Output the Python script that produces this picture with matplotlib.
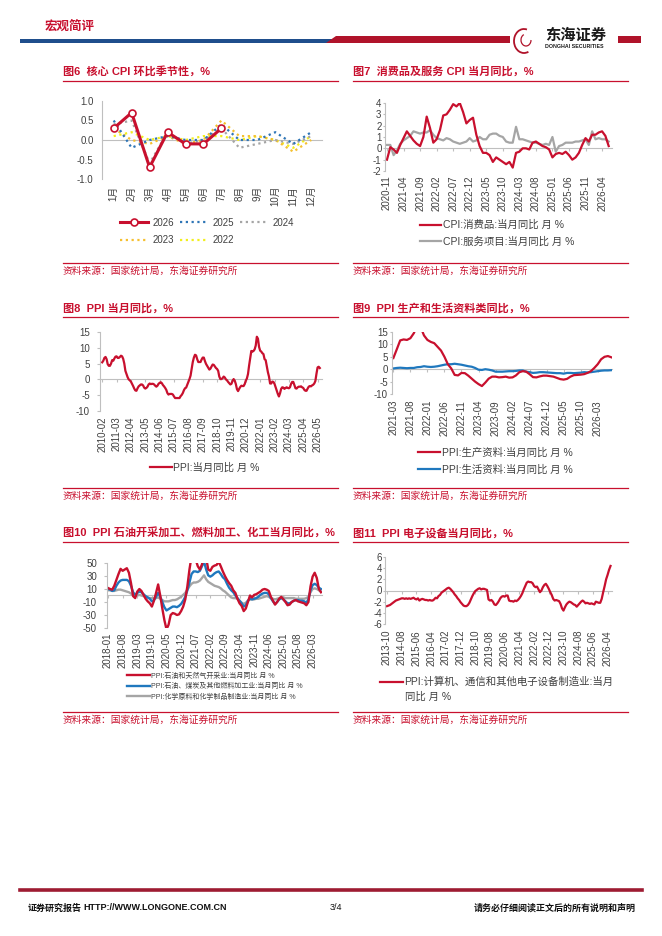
import numpy as np
import pandas as pd
import matplotlib
matplotlib.use("Agg")
import matplotlib.pyplot as plt
from matplotlib.lines import Line2D
from matplotlib.patches import Polygon, Rectangle, Arc

plt.rcParams['font.family'] = ['Liberation Sans', 'Noto Sans CJK SC']
plt.rcParams['axes.unicode_minus'] = False

RED = '#C8102E'
BAR_RED = '#B0132A'
BAR_BLUE = '#1F4E8C'
GREY = '#A5A5A5'
BLUE = '#1F78BE'
AXIS = '#BFBFBF'
TXT = '#404040'
SOURCE = '资料来源：国家统计局，东海证券研究所'

# ---- 图6 core CPI mom seasonality
months_cn = ['1月', '2月', '3月', '4月', '5月', '6月', '7月', '8月', '9月', '10月', '11月', '12月']
core_2026 = [0.3, 0.7, -0.7, 0.2, -0.1, -0.1, 0.3]
core_2025 = [0.5, -0.2, 0.0, 0.1, 0.0, 0.0, 0.4, 0.0, 0.0, 0.2, -0.1, 0.2]
core_2024 = [0.4, 0.5, -0.6, 0.2, -0.1, 0.0, 0.3, -0.2, -0.1, 0.0, -0.1, 0.1]
core_2023 = [0.3, 0.0, -0.1, 0.1, -0.1, 0.0, 0.5, 0.1, 0.1, 0.0, -0.3, 0.0]
core_2022 = [0.1, 0.2, 0.0, 0.1, 0.0, 0.1, 0.1, 0.0, 0.1, 0.0, -0.2, 0.1]

# ---- 图7 CPI goods / services yoy, from 2020-11
cpi_start = '2020-11'
cpi_goods = [-1.0, 0.1, -0.1, -0.4, 0.3, 0.9, 1.5, 1.1, 0.7, 0.4, 0.2, 1.0,
             2.8, 1.8, 0.5, 0.8, 1.6, 2.9, 3.0, 3.4, 3.9, 3.7, 4.0, 3.2,
             2.2, 2.5, 2.7, 1.2, 0.2, -0.4, -0.4, -0.6, -1.2, -0.8, -1.0, -1.2,
             -1.4, -1.2, -1.7, -0.4, -0.3, 0.0, 0.0, -0.1, 0.5, 0.6, 0.4, 0.2,
             0.1, -0.1, -0.8, -0.5, -0.4, -0.5, -0.3, -0.6, -1.0, -0.8, -0.4, 0.3,
             0.9, 0.6, 1.2, 1.2, 1.4, 1.5, 1.1, 0.2]
cpi_services = [0.3, 0.3, -0.6, -0.2, 0.4, 0.7, 0.9, 1.1, 1.5, 1.4, 1.3, 1.4,
                1.4, 1.6, 1.2, 0.9, 0.8, 0.7, 0.9, 0.8, 0.6, 0.5, 0.4, 0.5,
                0.6, 0.9, 0.6, 0.7, 1.0, 0.8, 0.8, 1.2, 1.3, 1.3, 1.1, 1.0,
                0.6, 0.5, 0.5, 1.9, 0.8, 0.8, 0.7, 0.6, 0.5, 0.5, 0.4, 0.3,
                0.4, 0.3, 1.0, -0.3, 0.2, 0.3, 0.5, 0.5, 0.5, 0.6, 0.6, 0.7,
                0.8, 0.3, 1.5, 0.8, 0.9, 0.8, 0.8, 0.6]
cpi_ticks = ['2020-11', '2021-04', '2021-09', '2022-02', '2022-07', '2022-12', '2023-05',
             '2023-10', '2024-03', '2024-08', '2025-01', '2025-06', '2025-11', '2026-04']

# ---- 图8 PPI yoy, from 2010-02
ppi_start = '2010-02'
ppi_yoy = [5.4, 5.9, 6.8, 7.1, 6.4, 4.8, 4.3, 4.3, 5.0, 6.1, 5.9,
           6.6, 7.2, 7.3, 6.8, 6.8, 7.1, 7.5, 7.3, 6.5, 5.0, 2.7, 1.7,
           0.7, 0.0, -0.3, -0.7, -1.4, -2.1, -2.9, -3.5, -3.6, -2.8, -2.2, -1.9,
           -1.6, -1.6, -1.9, -2.6, -2.9, -2.7, -2.3, -1.6, -1.3, -1.5, -1.4, -1.4,
           -1.6, -2.0, -2.3, -2.0, -1.4, -1.1, -0.9, -1.2, -1.8, -2.2, -2.7, -3.3,
           -4.3, -4.8, -4.6, -4.6, -4.6, -4.8, -5.4, -5.9, -5.9, -5.9, -5.9, -5.9,
           -5.3, -4.9, -4.3, -3.4, -2.8, -2.6, -1.7, -0.8, 0.1, 1.2, 3.3, 5.5,
           6.9, 7.8, 7.6, 6.4, 5.5, 5.5, 5.5, 6.3, 6.9, 6.9, 5.8, 4.9,
           4.3, 3.7, 3.1, 3.4, 4.1, 4.7, 4.6, 4.1, 3.6, 3.3, 2.7, 0.9,
           0.1, 0.1, 0.4, 0.9, 0.6, 0.0, -0.3, -0.8, -1.2, -1.6, -1.4, -0.5,
           0.1, -0.4, -1.5, -3.1, -3.7, -3.0, -2.4, -2.0, -2.1, -2.1, -1.5, -0.4,
           0.3, 1.7, 4.4, 6.8, 9.0, 8.8, 9.0, 9.5, 10.7, 13.5, 12.9, 10.3,
           9.1, 8.8, 8.3, 8.0, 6.4, 6.1, 4.2, 2.3, 0.9, -1.3, -1.3, -0.7,
           -0.8, -1.4, -2.5, -3.6, -4.6, -5.4, -4.4, -3.0, -2.5, -2.6, -3.0, -2.7,
           -2.5, -2.7, -2.8, -2.5, -1.4, -0.8, -0.8, -1.8, -2.8, -2.9, -2.5, -2.3,
           -2.3, -2.2, -2.5, -2.7, -3.3, -3.6, -3.6, -2.9, -2.3, -2.1, -2.2, -1.9,
           -1.7, -1.3, -0.5, 1.8, 3.8, 4.0, 3.6]
ppi_ticks = ['2010-02', '2011-03', '2012-04', '2013-05', '2014-06', '2015-07', '2016-08', '2017-09',
             '2018-10', '2019-11', '2020-12', '2022-01', '2023-02', '2024-03', '2025-04', '2026-05']

# ---- 图9 production / living materials, from 2021-03
mat_start = '2021-03'
ppi_production = [4.5, 8.0, 11.6, 12.0, 11.8, 12.5, 14.5, 17.5, 17.0, 13.6, 11.8, 11.0,
                  10.5, 9.0, 7.5, 5.0, 2.0, 0.3, -2.3, -2.5, -1.5, -1.6, -2.6, -3.8,
                  -5.0, -6.0, -6.8, -5.4, -3.8, -3.0, -3.0, -3.3, -3.2, -3.0, -3.4, -3.3,
                  -2.5, -1.2, -0.8, -1.0, -2.0, -3.2, -3.3, -2.9, -2.6, -2.6, -2.8, -3.0,
                  -3.5, -4.0, -4.2, -3.9, -3.0, -2.4, -2.3, -2.2, -2.0, -1.5, -0.8, 0.5,
                  2.0, 4.0, 5.0, 5.3, 4.8]
ppi_living = [0.3, 0.5, 0.6, 0.5, 0.4, 0.5, 0.5, 0.8, 0.9, 1.2, 1.0, 0.9,
              1.0, 1.2, 1.5, 1.8, 2.0, 2.0, 2.2, 2.0, 1.8, 1.5, 1.2, 1.0,
              0.5, -0.2, -0.3, 0.0, -0.2, -0.5, -1.0, -1.0, -1.0, -0.9, -0.8, -0.8,
              -0.7, -0.5, -0.5, -1.0, -1.2, -1.5, -1.4, -1.2, -1.2, -1.3, -1.4, -1.5,
              -1.6, -1.6, -1.8, -1.5, -1.5, -1.6, -1.5, -1.4, -1.2, -1.3, -1.2, -1.0,
              -0.8, -0.6, -0.5, -0.5, -0.4]
mat_ticks = ['2021-03', '2021-08', '2022-01', '2022-06', '2022-11', '2023-04', '2023-09',
             '2024-02', '2024-07', '2024-12', '2025-05', '2025-10', '2026-03']

# ---- 图10 oil / fuel / chemicals, from 2018-01
ind_start = '2018-01'
oil_gas = [11.5, 10, 9, 15, 24, 33, 41, 38, 40, 42, 35, 19,
           -1, -4, 6, 10, 7, 1, -5, -9, -12, -17, -8, 4,
           17, 0, -20, -38, -52, -45, -30, -27, -28, -30, -29, -24,
           -17, -6, 14, 40, 60, 65, 55, 45, 40, 48, 60, 58,
           40, 38, 44, 46, 47, 52, 45, 37, 30, 24, 19, 15,
           8, 4, -5, -12, -16, -24, -20, -10, 0, -3, 1, 2,
           4, 6, 9, 10, 9, 7, -2, -8, -14, -10, -5, -2,
           -6, -10, -15, -14, -10, -8, -7, -9, -10, -11, -12, -15,
           -10, 14, 29, 35, 27, 10, 5]
fuel_proc = [10, 9, 7, 8, 15, 20, 23, 24, 24, 24, 22, 15,
             5, 1, 4, 6, 5, 2, -1, -3, -5, -9, -7, -2,
             4, -2, -10, -18, -23, -21, -19, -17, -17, -18, -16, -13,
             -8, -2, 8, 20, 33, 37, 37, 36, 38, 45, 52, 40,
             31, 29, 31, 34, 36, 37, 33, 28, 25, 18, 12, 8,
             5, 0, -4, -8, -12, -17, -15, -8, -5, -6, -5, -4,
             -2, 1, 3, 4, 4, 2, -4, -9, -13, -10, -6, -4,
             -6, -9, -12, -12, -10, -8, -7, -7, -8, -8, -9, -11,
             -6, 8, 16, 18, 16, 12, 10]
chemicals = [8, 8, 7, 7, 8, 9, 9, 8, 7, 6, 5, 3,
             0, -1, 0, 1, 0, -1, -2, -3, -4, -4, -4, -4,
             -3, -5, -7, -9, -9, -9, -8, -7, -7, -6, -4, -2,
             1, 4, 9, 14, 18, 20, 20, 21, 23, 27, 31, 25,
             21, 19, 17, 15, 14, 13, 11, 8, 6, 3, 0, -3,
             -4, -4, -5, -8, -11, -13, -11, -8, -6, -6, -6, -5,
             -5, -4, -3, -2, -1, -2, -4, -5, -6, -5, -4, -3,
             -3, -4, -4, -4, -4, -4, -5, -5, -5, -5, -5, -4,
             -2, 5, 10, 11, 10, 8, 6]
ind_ticks = ['2018-01', '2018-08', '2019-03', '2019-10', '2020-05', '2020-12', '2021-07', '2022-02',
             '2022-09', '2023-04', '2023-11', '2024-06', '2025-01', '2025-08', '2026-03']

# ---- 图11 electronics, from 2013-10
elec_start = '2013-10'
electronics = [-2.8, -2.7, -2.6, -2.4, -2.2, -2.0, -1.8, -1.7, -1.6, -1.5,
               -1.4, -1.4, -1.5, -1.4, -1.5, -1.4, -1.5, -1.4, -1.3, -1.5,
               -1.6, -1.4, -1.8, -1.6, -1.5, -1.6, -1.7, -1.7, -1.8, -1.7,
               -1.8, -1.8, -1.6, -1.3, -1.4, -1.0, -0.8, -0.4, -0.2, 0.0,
               0.2, 0.4, 0.5, 0.3, 0.0, -0.3, -0.7, -1.0, -1.4, -1.7,
               -2.1, -2.4, -2.7, -2.8, -2.8, -2.6, -2.2, -1.6, -1.0, -0.5,
               -0.1, 0.1, 0.3, 0.4, 0.2, 0.3, 0.3, 0.2, 0.1, -1.6,
               -1.8, -1.7, -2.0, -2.5, -2.6, -2.3, -1.9, -1.4, -1.1, -1.0,
               -1.1, -0.9, -0.9, -1.8, -1.9, -1.9, -2.0, -1.8, -1.9, -1.7,
               -1.4, -1.0, -0.5, 0.2, 0.8, 1.4, 1.6, 1.5, 1.5, 1.3,
               0.8, 0.6, 0.7, 0.2, -0.3, 0.0, 0.6, 1.0, 1.2, 0.8,
               0.3, -0.3, -0.8, -1.5, -1.8, -1.7, -1.8, -1.9, -2.4, -3.2,
               -3.6, -3.0, -2.5, -2.2, -2.0, -2.1, -2.3, -2.5, -2.6, -2.9,
               -2.6, -2.3, -2.0, -1.8, -2.0, -2.3, -2.2, -2.3, -2.4, -2.3,
               -2.4, -2.5, -2.0, -2.1, -2.2, -2.2, -1.5, -0.3, 0.8, 2.0,
               2.8, 3.7, 4.4]
elec_ticks = ['2013-10', '2014-08', '2015-06', '2016-04', '2017-02', '2017-12', '2018-10', '2019-08',
              '2020-06', '2021-04', '2022-02', '2022-12', '2023-10', '2024-08', '2025-06', '2026-04']

W, H = 662, 936
fig = plt.figure(figsize=(W / 100, H / 100), dpi=100)


def fy(y):
    return 1 - y / H


def px_axes(x0, y0, x1, y1):
    return fig.add_axes([x0 / W, fy(y1), (x1 - x0) / W, (y1 - y0) / H])


def month_axis(start, values, tick_labels):
    months = pd.period_range(start, periods=len(values), freq='M')
    pos = [months.get_loc(pd.Period(t, freq='M')) for t in tick_labels]
    return np.arange(len(values)), pos


def frame(ax, ylim, yticks, yfmt, xlim, xpos, xlabels, xpad, ylen, ypad, zero_len=2.2):
    ax.set_xlim(*xlim)
    ax.set_ylim(*ylim)
    ax.set_yticks(yticks, [yfmt.format(v) for v in yticks])
    ax.set_xticks(xpos, xlabels, rotation=90)
    for side in ('top', 'right', 'bottom'):
        ax.spines[side].set_visible(False)
    ax.spines['left'].set_color(AXIS)
    ax.spines['left'].set_linewidth(0.8)
    ax.tick_params(axis='y', length=ylen, width=0.8, color=AXIS, pad=ypad, labelsize=7, labelcolor=TXT)
    ax.tick_params(axis='x', length=0, pad=xpad, labelsize=7, labelcolor=TXT)
    ax.patch.set_alpha(0)
    # category axis crosses at zero
    zero = ax.secondary_xaxis((0 - ylim[0]) / (ylim[1] - ylim[0]))
    zero.set_alignment('bottom')
    zero.set_xticks(xpos)
    zero.tick_params(length=zero_len, width=0.8, color=AXIS, labelbottom=False, labeltop=False)
    for s in zero.spines.values():
        s.set_color(AXIS)
        s.set_linewidth(0.8)


def panel_frame(x0, x1, title, y_title, y_line, y_srcline, y_src):
    fig.text(x0 / W, fy(y_title), title, fontsize=8, fontweight='bold', color=RED, va='center', ha='left')
    fig.add_artist(Line2D([x0 / W, x1 / W], [fy(y_line)] * 2, color=RED, lw=0.9))
    fig.add_artist(Line2D([x0 / W, x1 / W], [fy(y_srcline)] * 2, color=RED, lw=0.9))
    fig.text(x0 / W, fy(y_src), SOURCE, fontsize=7, color=RED, va='center', ha='left')


def legend(ax, handles, labels, x, y, fs=7.5, hl=2.0, tp=0.25, ls=0.55, **kw):
    leg = ax.legend(handles, labels, loc='center left', bbox_to_anchor=(x / W, fy(y)),
                    bbox_transform=fig.transFigure, frameon=False, borderpad=0, borderaxespad=0,
                    fontsize=fs, handlelength=hl, handletextpad=tp, labelspacing=ls, **kw)
    for t in leg.get_texts():
        t.set_color(TXT)
    return leg


# ---------------- header
fig.text(45 / W, fy(27), '宏观简评', fontsize=9, fontweight='bold', color=RED, va='center')
fig.add_artist(Rectangle((20 / W, fy(43)), (332 - 20) / W, 4.5 / H, transform=fig.transFigure,
                         facecolor=BAR_BLUE, edgecolor='none'))
fig.add_artist(Polygon([(326 / W, fy(43)), (336 / W, fy(36)), (510 / W, fy(36)), (510 / W, fy(43))],
                       closed=True, transform=fig.transFigure, facecolor=BAR_RED, edgecolor='none'))
fig.add_artist(Rectangle((618 / W, fy(43)), (641 - 618) / W, 7 / H, transform=fig.transFigure,
                         facecolor=BAR_RED, edgecolor='none'))
fig.add_artist(Arc((524 / W, fy(41)), 20 / W, 24 / H, theta1=70, theta2=300, transform=fig.transFigure,
                   color=BAR_RED, lw=1.3))
fig.add_artist(Arc((526 / W, fy(40)), 10 / W, 12 / H, theta1=120, theta2=360, transform=fig.transFigure,
                   color=BAR_RED, lw=0.9))
fig.text(545 / W, fy(36), '东海证券', fontsize=11, fontweight='bold', color='#1A1A1A', va='center')
fig.text(545 / W, fy(47), 'DONGHAI SECURITIES', fontsize=3.8, fontweight='bold', color='#1A1A1A', va='center')

# ---------------- footer
fig.add_artist(Line2D([20 / W, 642 / W], [fy(890)] * 2, color='#9E1B32', lw=2.6))
fig.text(28 / W, fy(908), '证券研究报告', fontsize=6.5, fontweight='bold', color='#111111', va='center')
fig.text(83 / W, fy(908), 'HTTP://WWW.LONGONE.COM.CN', fontsize=6.5, fontweight='bold', color='#111111', va='center')
fig.text(330 / W, fy(908), '3/4', fontsize=6.5, color='#111111', va='center')
fig.text(636 / W, fy(908), '请务必仔细阅读正文后的所有说明和声明', fontsize=6.5, fontweight='bold',
         color='#111111', va='center', ha='right')

# ---------------- panel frames
LX0, LX1, RX0, RX1 = 63, 338, 353, 628
panel_frame(LX0, LX1, '图6  核心 CPI 环比季节性，%', 71, 80.7, 262.7, 270.7)
panel_frame(RX0, RX1, '图7  消费品及服务 CPI 当月同比，%', 71, 80.7, 262.7, 270.7)
panel_frame(LX0, LX1, '图8  PPI 当月同比，%', 308.3, 316.7, 487.7, 495.7)
panel_frame(RX0, RX1, '图9  PPI 生产和生活资料类同比，%', 308.3, 316.7, 487.7, 495.7)
panel_frame(LX0, LX1, '图10  PPI 石油开采加工、燃料加工、化工当月同比，%', 533.3, 542.3, 712.3, 720)
panel_frame(RX0, RX1, '图11  PPI 电子设备当月同比，%', 533.3, 542.3, 712.3, 720)

# ---------------- 图6
ax6 = px_axes(102, 101, 322, 179)
x12 = np.arange(len(months_cn))
dot = (0, (1, 1.6))
l22, = ax6.plot(x12, core_2022, color='#F2EE1C', lw=1.6, ls=dot)
l23, = ax6.plot(x12, core_2023, color='#F5C030', lw=1.6, ls=dot)
l24, = ax6.plot(x12, core_2024, color=GREY, lw=1.6, ls=dot)
l25, = ax6.plot(x12, core_2025, color='#2E75B6', lw=1.6, ls=dot)
l26, = ax6.plot(x12[:len(core_2026)], core_2026, color=RED, lw=2.2, marker='o', ms=5,
                mfc='white', mec=RED, mew=1.2)
frame(ax6, (-1.0, 1.0), [-1.0, -0.5, 0.0, 0.5, 1.0], '{:.1f}', (-0.65, 11.6), x12, months_cn,
      xpad=5, ylen=0, ypad=6, zero_len=0)
legend(ax6, [l26, l23, l25, l22, l24], ['2026', '2023', '2025', '2022', '2024'], 120, 231.5,
       fs=7, hl=2.9, tp=0.45, ls=0.8, ncol=3, columnspacing=0.6)

# ---------------- 图7
ax7 = px_axes(385, 103, 612, 171)
x7, p7 = month_axis(cpi_start, cpi_goods, cpi_ticks)
g7, = ax7.plot(x7, cpi_services, color=GREY, lw=1.6)
r7, = ax7.plot(x7, cpi_goods, color=RED, lw=1.6)
frame(ax7, (-2, 4), list(range(-2, 5)), '{:d}', (-0.6, 68), p7, cpi_ticks, xpad=3, ylen=1.5, ypad=1)
legend(ax7, [r7, g7], ['CPI:消费品:当月同比 月 %', 'CPI:服务项目:当月同比 月 %'], 420, 233.5, ls=0.62)

# ---------------- 图8
ax8 = px_axes(100, 332, 322, 411)
x8, p8 = month_axis(ppi_start, ppi_yoy, ppi_ticks)
r8, = ax8.plot(x8, ppi_yoy, color=RED, lw=1.6)
frame(ax8, (-10, 15), list(range(-10, 16, 5)), '{:d}', (-2, 199), p8, ppi_ticks, xpad=4, ylen=2.2, ypad=5)
legend(ax8, [r8], ['PPI:当月同比 月 %'], 150, 468, hl=2.1, tp=0.1)

# ---------------- 图9
ax9 = px_axes(392, 332, 612, 394)
x9, p9 = month_axis(mat_start, ppi_production, mat_ticks)
b9, = ax9.plot(x9, ppi_living, color=BLUE, lw=1.6)
r9, = ax9.plot(x9, ppi_production, color=RED, lw=1.6)
frame(ax9, (-10, 15), list(range(-10, 16, 5)), '{:d}', (-0.4, 64.2), p9, mat_ticks, xpad=4.3, ylen=1.5, ypad=1.5)
legend(ax9, [r9, b9], ['PPI:生产资料:当月同比 月 %', 'PPI:生活资料:当月同比 月 %'], 418, 461.5,
       hl=2.1, tp=0.2, ls=0.65)

# ---------------- 图10
ax10 = px_axes(107, 563, 322, 628)
x10, p10 = month_axis(ind_start, oil_gas, ind_ticks)
c10, = ax10.plot(x10, chemicals, color=GREY, lw=1.7)
f10, = ax10.plot(x10, fuel_proc, color=BLUE, lw=1.7)
o10, = ax10.plot(x10, oil_gas, color=RED, lw=1.7)
frame(ax10, (-50, 50), list(range(-50, 51, 20)), '{:d}', (-0.5, 102.5), p10, ind_ticks, xpad=3.4, ylen=2.2, ypad=5)
legend(ax10, [o10, f10, c10], ['PPI:石油和天然气开采业:当月同比 月 %', 'PPI:石油、煤炭及其他燃料加工业:当月同比 月 %',
                               'PPI:化学原料和化学制品制造业:当月同比 月 %'], 127, 686.5,
       fs=5, hl=3.3, tp=0.2, ls=0.5)

# ---------------- 图11
ax11 = px_axes(385, 557, 612, 624)
x11, p11 = month_axis(elec_start, electronics, elec_ticks)
r11, = ax11.plot(x11, electronics, color=RED, lw=1.6)
frame(ax11, (-6, 6), list(range(-6, 7, 2)), '{:d}', (-1.4, 153), p11, elec_ticks, xpad=4.3, ylen=1.5, ypad=0.5)
# long legend label wraps onto a second line under the text, handle stays on the first line
legend(ax11, [r11], ['PPI:计算机、通信和其他电子设备制造业:当月'], 380, 682, hl=2.2, tp=0.15)
fig.text(405 / W, fy(697), '同比 月 %', fontsize=7.5, color=TXT, va='center', ha='left')

fig.savefig('out.png', dpi=100)
